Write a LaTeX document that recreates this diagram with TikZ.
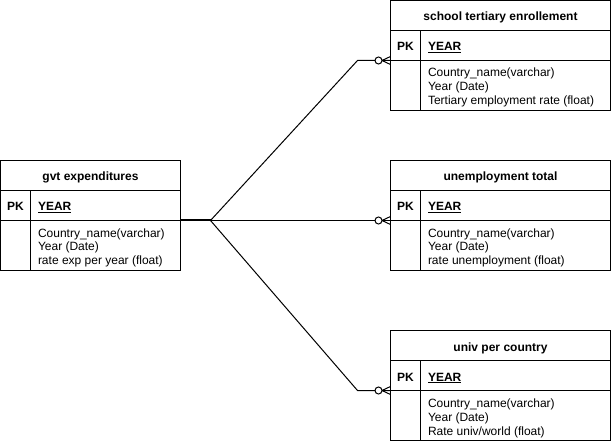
\documentclass[tikz,border=0pt]{standalone}
\usepackage{fontspec}
\setmainfont{Liberation Sans}

\begin{document}
\begin{tikzpicture}
    [x=1pt, y=-1pt,
     every node/.style={font=\fontsize{12}{14}\selectfont, inner sep=0pt, outer sep=0pt},
     cell/.style={shape=rectangle, draw=black, line width=1pt, anchor=north west},
     titlecell/.style={cell, minimum width=#1, minimum height=30pt, font=\fontsize{12}{14}\selectfont\bfseries, text height=11pt, text depth=0pt},
     pkcell/.style={cell, minimum width=30pt, minimum height=30pt, font=\fontsize{12}{14}\selectfont\bfseries, text height=11pt, text depth=0pt},
     keycell/.style={cell, text width=#1, inner xsep=7.5pt, minimum height=30pt, align=left, font=\fontsize{12}{14}\selectfont\bfseries, text height=11pt, text depth=0pt},
     blankcell/.style={cell, minimum width=30pt, minimum height=50pt},
     fieldcell/.style={cell, minimum width=#1, minimum height=50pt},
     fieldtext/.style={anchor=north west, inner xsep=7.5pt, align=left},
     link/.style={draw=black, line width=1pt},
     zeromany/.pic={
        \draw[line width=1pt, fill=white] (-12,0) circle[radius=3.5pt];
        \draw[line width=1pt] (-8.5,0) -- (0,-4) (-8.5,0) -- (0,4);
     },
    ]
\useasboundingbox (0,0) rectangle (611,441);

% gvt expenditures
\node[titlecell=180pt] (gvt_title) at (0.5,160.5) {gvt expenditures};
\node[pkcell] (gvt_pk) at (gvt_title.south west) {PK};
\node[keycell=135pt] (gvt_key) at (gvt_pk.north east) {\underline{YEAR}};
\node[blankcell] (gvt_blank) at (gvt_pk.south west) {};
\node[fieldcell=150pt] (gvt_fields) at (gvt_blank.north east) {};
\node[fieldtext] (gvt_list) at (gvt_fields.north west) {\rule{0pt}{16.5pt}Country\_name(varchar)\\Year (Date)\\rate exp per year (float)};

% school tertiary enrollement
\node[titlecell=220pt] (school_title) at (390.5,0.5) {school tertiary enrollement};
\node[pkcell] (school_pk) at (school_title.south west) {PK};
\node[keycell=175pt] (school_key) at (school_pk.north east) {\underline{YEAR}};
\node[blankcell] (school_blank) at (school_pk.south west) {};
\node[fieldcell=190pt] (school_fields) at (school_blank.north east) {};
\node[fieldtext] (school_list) at (school_fields.north west) {\rule{0pt}{16.5pt}Country\_name(varchar)\\Year (Date)\\Tertiary employment rate (float)};

% unemployment total
\node[titlecell=220pt] (unemp_title) at (390.5,160.5) {unemployment total};
\node[pkcell] (unemp_pk) at (unemp_title.south west) {PK};
\node[keycell=175pt] (unemp_key) at (unemp_pk.north east) {\underline{YEAR}};
\node[blankcell] (unemp_blank) at (unemp_pk.south west) {};
\node[fieldcell=190pt] (unemp_fields) at (unemp_blank.north east) {};
\node[fieldtext] (unemp_list) at (unemp_fields.north west) {\rule{0pt}{16.5pt}Country\_name(varchar)\\Year (Date)\\rate unemployment (float)};

% univ per country
\node[titlecell=220pt] (univ_title) at (390.5,330.5) {univ per country};
\node[pkcell] (univ_pk) at (univ_title.south west) {PK};
\node[keycell=175pt] (univ_key) at (univ_pk.north east) {\underline{YEAR}};
\node[blankcell] (univ_blank) at (univ_pk.south west) {};
\node[fieldcell=190pt] (univ_fields) at (univ_blank.north east) {};
\node[fieldtext] (univ_list) at (univ_fields.north west) {\rule{0pt}{16.5pt}Country\_name(varchar)\\Year (Date)\\Rate univ/world (float)};

% links
\coordinate (hub) at ([xshift=30pt]gvt_key.south east);
\draw[link, line width=2pt] (gvt_key.south east) -- (hub);
\draw[link] (hub) -- ([xshift=-33pt]school_pk.south west) -- (school_pk.south west);
\draw[link] (hub) -- (unemp_pk.south west);
\draw[link] (hub) -- ([xshift=-33pt]univ_pk.south west) -- (univ_pk.south west);
\pic at (school_pk.south west) {zeromany};
\pic at (unemp_pk.south west) {zeromany};
\pic at (univ_pk.south west) {zeromany};

\end{tikzpicture}
\end{document}
